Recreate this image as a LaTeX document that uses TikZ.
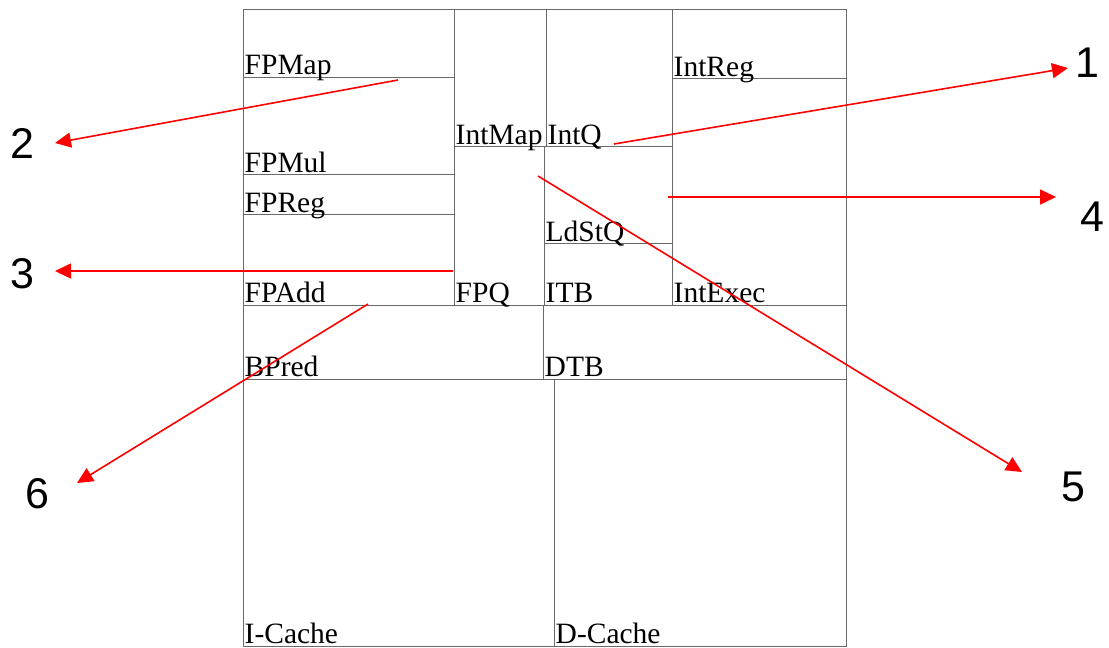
\documentclass[tikz,border=0pt]{standalone}
\usepackage{fontspec}
\setmainfont{Liberation Serif}
\newfontfamily\numfont{Liberation Sans}
\usetikzlibrary{arrows.meta}
\definecolor{blkgray}{RGB}{105,105,105}
\begin{document}
\begin{tikzpicture}[x=1pt,y=-1pt,
  blk/.style={draw=blkgray, line width=0.9pt},
  lbl/.style={anchor=base west, inner sep=0pt, font=\fontsize{29.5}{30}\selectfont},
  num/.style={inner sep=0pt, font=\numfont\fontsize{43}{44}\selectfont},
  arr/.style={draw=red, line width=1.6pt, -{Triangle[length=16pt,width=15pt]}}]
\fill[white] (0,0) rectangle (1109,648);
\useasboundingbox (0,0) rectangle (1109,648);
% blocks
\draw[blk] (243,9) rectangle (454,77);
\draw[blk] (243,77) rectangle (454,174);
\draw[blk] (243,174) rectangle (454,214);
\draw[blk] (243,214) rectangle (454,305);
\draw[blk] (454,9) rectangle (546,146);
\draw[blk] (454,146) rectangle (544,305);
\draw[blk] (546,9) rectangle (672,146);
\draw[blk] (544,146) rectangle (672,243);
\draw[blk] (544,243) rectangle (672,305);
\draw[blk] (672,9) rectangle (846,78);
\draw[blk] (672,78) rectangle (846,305);
\draw[blk] (243,305) rectangle (543,379);
\draw[blk] (543,305) rectangle (846,379);
\draw[blk] (243,379) rectangle (554,646);
\draw[blk] (554,379) rectangle (846,646);
% labels
\node[lbl] (fpmap) at (244.5,74.5) {FPMap};
\node[lbl] (fpmul) at (244.5,172) {FPMul};
\node[lbl] (fpreg) at (244.5,212) {FPReg};
\node[lbl] (fpadd) at (244.5,302) {FPAdd};
\node[lbl] (intmap) at (455.5,144.5) {IntMap};
\node[lbl] (fpq) at (455.5,302) {FPQ};
\node[lbl] (intq) at (547.5,144.5) {IntQ};
\node[lbl] (intreg) at (673.5,76) {IntReg};
\node[lbl] (ldstq) at (545.5,241.5) {LdStQ};
\node[lbl] (itb) at (545.5,302) {ITB};
\node[lbl] (intexec) at (673.5,302) {IntExec};
\node[lbl] (bpred) at (244.5,376.5) {BPred};
\node[lbl] (dtb) at (544.5,376.5) {DTB};
\node[lbl] (icache) at (244.5,643) {I-Cache};
\node[lbl] (dcache) at (555.5,643) {D-Cache};
% numbers
\node[num] (n1) at (1087,63) {1};
\node[num] (n2) at (22,143) {2};
\node[num] (n3) at (22,274) {3};
\node[num] (n4) at (1092,217) {4};
\node[num] (n5) at (1073,487) {5};
\node[num] (n6) at (37,494) {6};
% arrow ends
\coordinate (s1) at (614,144);
\coordinate (e1) at (1068,68);
\coordinate (s2) at (398,80);
\coordinate (e2) at (55,143);
\coordinate (s3) at (453,271);
\coordinate (e3) at (55,271);
\coordinate (s4) at (668,197);
\coordinate (e4) at (1056,197);
\coordinate (s5) at (538,176);
\coordinate (e5) at (1022,472);
\coordinate (s6) at (368,304);
\coordinate (e6) at (77,483);
\draw[arr] (s1) -- (e1);
\draw[arr] (s2) -- (e2);
\draw[arr] (s3) -- (e3);
\draw[arr] (s4) -- (e4);
\draw[arr] (s5) -- (e5);
\draw[arr] (s6) -- (e6);
\end{tikzpicture}
\end{document}
